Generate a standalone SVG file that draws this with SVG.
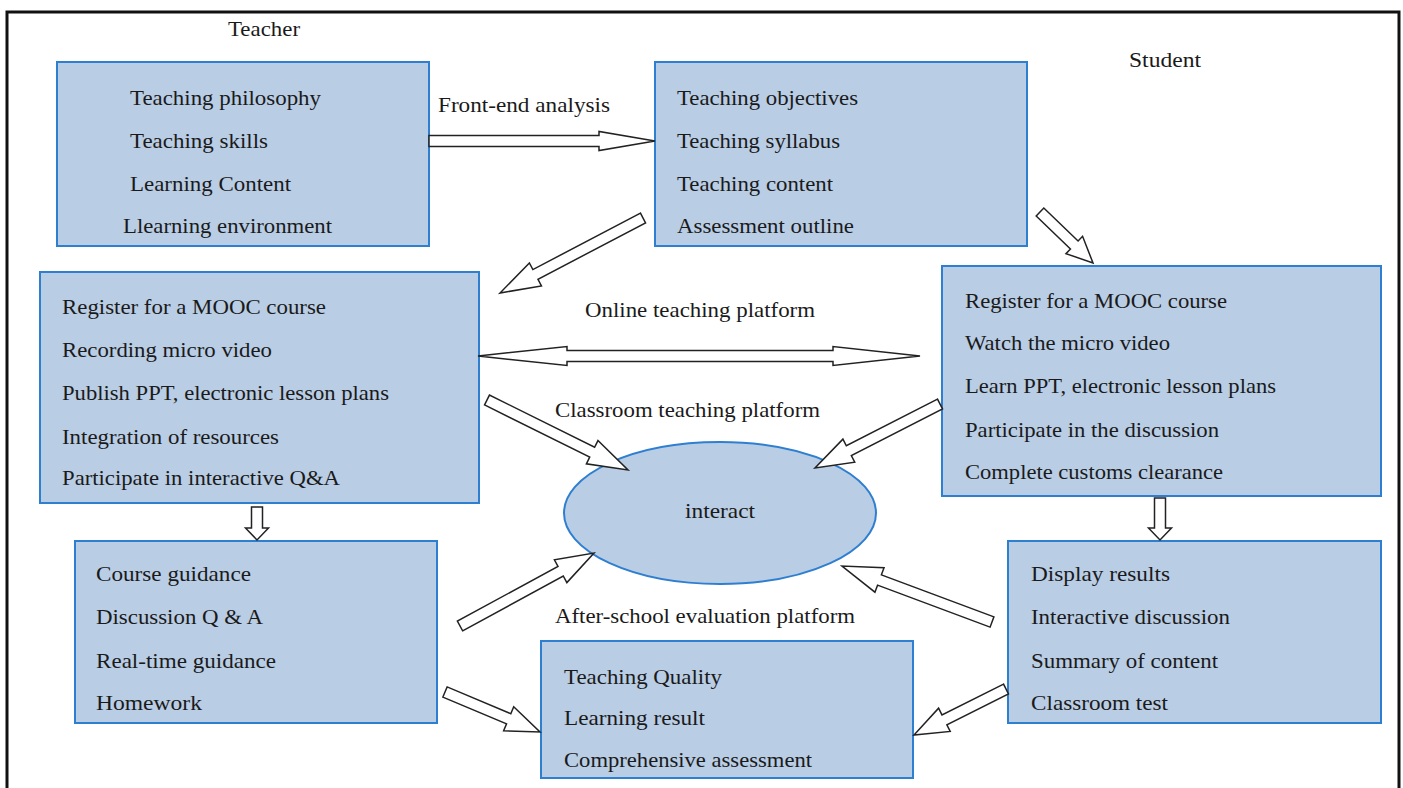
<svg xmlns="http://www.w3.org/2000/svg" width="1403" height="788" viewBox="0 0 1403 788">
<style>
.box{fill:#b9cde5;stroke:#2f7fd1;stroke-width:2}
.t{font-family:"Liberation Serif","Times New Roman",serif;font-size:21px;fill:#1a1a1a}
.arr{fill:#ffffff;stroke:#222222;stroke-width:1.5;stroke-linejoin:miter}
</style>
<rect width="1403" height="788" fill="#ffffff"/>
<path d="M7,790 V12 H1399 V790" fill="none" stroke="#111111" stroke-width="3"/>

<text class="t" x="228" y="36" textLength="72" lengthAdjust="spacingAndGlyphs">Teacher</text>
<text class="t" x="1129" y="67" textLength="72" lengthAdjust="spacingAndGlyphs">Student</text>
<text class="t" x="438" y="112" textLength="172" lengthAdjust="spacingAndGlyphs">Front-end analysis</text>
<text class="t" x="585" y="317" textLength="230" lengthAdjust="spacingAndGlyphs">Online teaching platform</text>
<text class="t" x="555" y="417" textLength="265" lengthAdjust="spacingAndGlyphs">Classroom teaching platform</text>
<text class="t" x="555" y="623" textLength="300" lengthAdjust="spacingAndGlyphs">After-school evaluation platform</text>

<g id="teacher-factors">
<rect class="box" x="57" y="62" width="372" height="184"/>
<text class="t" x="130" y="105" textLength="191" lengthAdjust="spacingAndGlyphs">Teaching philosophy</text>
<text class="t" x="130" y="148" textLength="138" lengthAdjust="spacingAndGlyphs">Teaching skills</text>
<text class="t" x="130" y="191" textLength="161" lengthAdjust="spacingAndGlyphs">Learning Content</text>
<text class="t" x="123" y="233" textLength="209" lengthAdjust="spacingAndGlyphs">Llearning environment</text>
</g>

<g id="teaching-design">
<rect class="box" x="655" y="62" width="372" height="184"/>
<text class="t" x="677" y="105" textLength="181" lengthAdjust="spacingAndGlyphs">Teaching objectives</text>
<text class="t" x="677" y="148" textLength="163" lengthAdjust="spacingAndGlyphs">Teaching syllabus</text>
<text class="t" x="677" y="191" textLength="156" lengthAdjust="spacingAndGlyphs">Teaching content</text>
<text class="t" x="677" y="233" textLength="177" lengthAdjust="spacingAndGlyphs">Assessment outline</text>
</g>

<g id="teacher-online">
<rect class="box" x="40" y="272" width="439" height="231"/>
<text class="t" x="62" y="314" textLength="264" lengthAdjust="spacingAndGlyphs">Register for a MOOC course</text>
<text class="t" x="62" y="357" textLength="210" lengthAdjust="spacingAndGlyphs">Recording micro video</text>
<text class="t" x="62" y="400" textLength="327" lengthAdjust="spacingAndGlyphs">Publish PPT, electronic lesson plans</text>
<text class="t" x="62" y="444" textLength="217" lengthAdjust="spacingAndGlyphs">Integration of resources</text>
<text class="t" x="62" y="485" textLength="278" lengthAdjust="spacingAndGlyphs">Participate in interactive Q&amp;A</text>
</g>

<g id="student-online">
<rect class="box" x="942" y="266" width="439" height="230"/>
<text class="t" x="965" y="308" textLength="262" lengthAdjust="spacingAndGlyphs">Register for a MOOC course</text>
<text class="t" x="965" y="350" textLength="205" lengthAdjust="spacingAndGlyphs">Watch the micro video</text>
<text class="t" x="965" y="393" textLength="311" lengthAdjust="spacingAndGlyphs">Learn PPT, electronic lesson plans</text>
<text class="t" x="965" y="437" textLength="254" lengthAdjust="spacingAndGlyphs">Participate in the discussion</text>
<text class="t" x="965" y="479" textLength="258" lengthAdjust="spacingAndGlyphs">Complete customs clearance</text>
</g>

<g id="teacher-classroom">
<rect class="box" x="75" y="541" width="362" height="182"/>
<text class="t" x="96" y="581" textLength="155" lengthAdjust="spacingAndGlyphs">Course guidance</text>
<text class="t" x="96" y="624" textLength="167" lengthAdjust="spacingAndGlyphs">Discussion Q &amp; A</text>
<text class="t" x="96" y="668" textLength="180" lengthAdjust="spacingAndGlyphs">Real-time guidance</text>
<text class="t" x="96" y="710" textLength="106" lengthAdjust="spacingAndGlyphs">Homework</text>
</g>

<g id="evaluation">
<rect class="box" x="541" y="641" width="372" height="137"/>
<text class="t" x="564" y="684" textLength="158" lengthAdjust="spacingAndGlyphs">Teaching Quality</text>
<text class="t" x="564" y="725" textLength="141" lengthAdjust="spacingAndGlyphs">Learning result</text>
<text class="t" x="564" y="767" textLength="248" lengthAdjust="spacingAndGlyphs">Comprehensive assessment</text>
</g>

<g id="student-classroom">
<rect class="box" x="1008" y="541" width="373" height="182"/>
<text class="t" x="1031" y="581" textLength="139" lengthAdjust="spacingAndGlyphs">Display results</text>
<text class="t" x="1031" y="624" textLength="199" lengthAdjust="spacingAndGlyphs">Interactive discussion</text>
<text class="t" x="1031" y="668" textLength="187" lengthAdjust="spacingAndGlyphs">Summary of content</text>
<text class="t" x="1031" y="710" textLength="137" lengthAdjust="spacingAndGlyphs">Classroom test</text>
</g>

<g id="interact">
<ellipse class="box" cx="720" cy="513" rx="156" ry="71"/>
<text class="t" x="685" y="518" textLength="70" lengthAdjust="spacingAndGlyphs">interact</text>
</g>

<g id="connectors">
<polygon class="arr" points="429,135.5 599,135.5 599,131.5 655,141 599,150.5 599,146.5 429,146.5"/>
<polygon class="arr" points="478,356 567,346.5 567,350.5 833,350.5 833,346.5 920,356 833,365.5 833,361.5 567,361.5 567,365.5"/>
<polygon class="arr" points="640.45,213.13 532.87,269.55 529.38,262.91 500,293 541.46,285.93 537.97,279.29 645.55,222.87"/>
<polygon class="arr" points="1036.19,215.96 1070.45,248.93 1065.94,253.62 1093,263 1082.58,236.32 1078.07,241.01 1043.81,208.04"/>
<polygon class="arr" points="484.55,404.93 589.72,457.14 586.39,463.86 628,470 597.95,440.57 594.62,447.28 489.45,395.07"/>
<polygon class="arr" points="937.49,399.10 846.32,445.78 842.91,439.11 815,468 854.76,462.25 851.34,455.58 942.51,408.90"/>
<polygon class="arr" points="462.63,630.83 563.26,576.01 566.85,582.60 594,553 554.41,559.77 558.00,566.35 457.37,621.17"/>
<polygon class="arr" points="442.87,697.07 506.54,723.88 503.63,730.79 540,732 513.71,706.83 510.80,713.74 447.13,686.93"/>
<polygon class="arr" points="993.92,616.85 881.40,574.84 884.03,567.81 842,566 874.93,592.17 877.56,585.14 990.08,627.15"/>
<polygon class="arr" points="1003.54,684.08 941.95,714.88 938.60,708.17 914,735 950.22,731.43 946.87,724.72 1008.46,693.92"/>
<polygon class="arr" points="251.5,507 251.5,528 245.5,528 257,540 268.5,528 262.5,528 262.5,507"/>
<polygon class="arr" points="1154.5,498 1154.5,528 1148.5,528 1160,540 1171.5,528 1165.5,528 1165.5,498"/>
</g>
</svg>
